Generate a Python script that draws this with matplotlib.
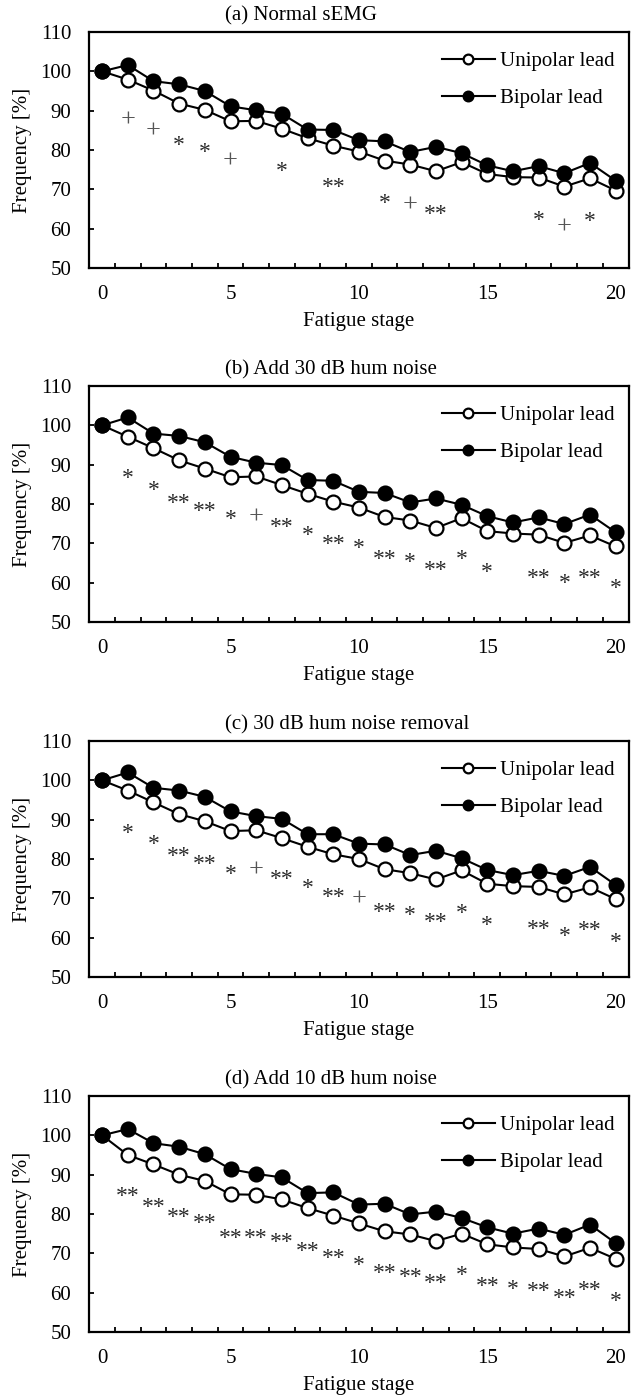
import numpy as np
import matplotlib
matplotlib.use("Agg")
import matplotlib.pyplot as plt
from matplotlib.ticker import MultipleLocator, FixedLocator

plt.rcParams['font.family'] = ['Liberation Serif', 'DejaVu Serif']

stages = list(range(21))

titles = ["(a) Normal sEMG", "(b) Add 30 dB hum noise",
          "(c) 30 dB hum noise removal", "(d) Add 10 dB hum noise"]

unipolar_a = [100, 97.9, 95.1, 91.8, 90.2, 87.3, 87.4, 85.4, 83.0, 81.1, 79.6,
              77.3, 76.3, 74.6, 76.9, 73.9, 73.1, 73.0, 70.7, 72.8, 69.7]
bipolar_a = [100, 101.6, 97.5, 96.7, 95.0, 91.1, 90.1, 89.2, 85.2, 85.1, 82.5,
             82.2, 79.5, 80.8, 79.2, 76.1, 74.6, 75.9, 74.1, 76.7, 72.2]

unipolar_b = [100, 97.1, 94.2, 91.1, 89.0, 86.8, 87.0, 84.8, 82.6, 80.6, 79.1,
              76.7, 75.8, 73.9, 76.4, 73.1, 72.5, 72.2, 70.1, 72.0, 69.2]
bipolar_b = [100, 102.0, 97.9, 97.3, 95.7, 92.0, 90.5, 89.9, 86.1, 85.9, 83.1,
             82.8, 80.4, 81.4, 79.8, 76.9, 75.3, 76.6, 74.9, 77.3, 72.8]

unipolar_c = [100, 97.4, 94.4, 91.4, 89.6, 87.1, 87.3, 85.3, 83.1, 81.2, 80.0,
              77.4, 76.4, 74.8, 77.1, 73.7, 73.1, 72.9, 71.0, 72.8, 69.8]
bipolar_c = [100, 102.0, 98.1, 97.4, 95.8, 92.1, 90.9, 90.2, 86.3, 86.3, 83.9,
             83.7, 81.0, 82.1, 80.2, 77.2, 75.9, 77.0, 75.7, 78.0, 73.4]

unipolar_d = [100, 95.0, 92.6, 90.0, 88.4, 85.0, 84.9, 83.7, 81.5, 79.6, 77.6,
              75.6, 74.8, 73.1, 75.0, 72.3, 71.5, 71.1, 69.2, 71.4, 68.6]
bipolar_d = [100, 101.6, 98.0, 97.1, 95.2, 91.4, 90.2, 89.3, 85.3, 85.5, 82.4,
             82.6, 79.9, 80.6, 79.0, 76.6, 75.0, 76.3, 74.7, 77.3, 72.6]

# significance marks: (stage, y position of symbol, text)
marks_a = [(1, 87.7, "+"), (2, 84.9, "+"), (3, 82.6, "*"), (4, 80.9, "*"),
           (5, 77.3, "+"), (7, 76.0, "*"), (9, 71.9, "**"), (11, 67.9, "*"),
           (12, 66.1, "+"), (13, 65.0, "**"), (17, 63.4, "*"), (18, 60.5, "+"),
           (19, 63.2, "*")]
marks_b = [(1, 87.8, "*"), (2, 84.8, "*"), (3, 81.6, "**"), (4, 79.6, "**"),
           (5, 77.5, "*"), (6, 76.7, "+"), (7, 75.4, "**"), (8, 73.3, "*"),
           (9, 71.2, "**"), (10, 70.0, "*"), (11, 67.2, "**"), (12, 66.6, "*"),
           (13, 64.4, "**"), (14, 67.2, "*"), (15, 63.9, "*"), (17, 62.6, "**"),
           (18, 61.1, "*"), (19, 62.6, "**"), (20, 59.9, "*")]
marks_c = [(1, 88.0, "*"), (2, 85.0, "*"), (3, 82.1, "**"), (4, 80.0, "**"),
           (5, 77.6, "*"), (6, 77.2, "+"), (7, 76.1, "**"), (8, 73.8, "*"),
           (9, 71.7, "**"), (10, 69.8, "+"), (11, 67.9, "**"), (12, 67.1, "*"),
           (13, 65.2, "**"), (14, 67.5, "*"), (15, 64.5, "*"), (17, 63.4, "**"),
           (18, 61.6, "*"), (19, 63.3, "**"), (20, 60.3, "*")]
marks_d = [(1, 85.8, "**"), (2, 83.1, "**"), (3, 80.5, "**"), (4, 79.0, "**"),
           (5, 75.3, "**"), (6, 75.3, "**"), (7, 74.2, "**"), (8, 71.9, "**"),
           (9, 70.2, "**"), (10, 68.3, "*"), (11, 66.2, "**"), (12, 65.4, "**"),
           (13, 63.7, "**"), (14, 65.8, "*"), (15, 62.9, "**"), (16, 62.2, "*"),
           (17, 61.6, "**"), (18, 59.9, "**"), (19, 62.0, "**"), (20, 59.2, "*")]

panels = [
    (titles[0], unipolar_a, bipolar_a, marks_a),
    (titles[1], unipolar_b, bipolar_b, marks_b),
    (titles[2], unipolar_c, bipolar_c, marks_c),
    (titles[3], unipolar_d, bipolar_d, marks_d),
]

W, H = 642, 1400
fig = plt.figure(figsize=(W / 100, H / 100), dpi=100)

ax_left, ax_right = 89.3, 628.5
ax_tops = [32, 386, 741, 1096]
ax_h = 236
fs = 15
# per-symbol font size and glyph centre height above baseline (fraction of em)
sym_fs = {"*": 17, "**": 17, "+": 19}
sym_center = {"*": 0.47, "**": 0.47, "+": 0.25}

for (title, uni, bi, marks), top in zip(panels, ax_tops):
    ax = fig.add_axes([ax_left / W, 1 - (top + ax_h) / H,
                       (ax_right - ax_left) / W, ax_h / H])

    ax.plot(stages, uni, '-o', color='black', lw=1.5, ms=10, mfc='white',
            mec='black', mew=1.6, label='Unipolar lead', zorder=3)
    ax.plot(stages, bi, '-o', color='black', lw=1.5, ms=10, mfc='black',
            mec='black', mew=1.6, label='Bipolar lead', zorder=4)

    for x, y, s in marks:
        ax.annotate(s, (x, y), xytext=(0, -sym_center[s] * sym_fs[s]),
                    textcoords='offset points', ha='center', va='baseline',
                    fontsize=sym_fs[s],
                    color='#555555' if s == "+" else '#2a2a2a')

    ax.set_xlim(-0.5, 20.5)
    ax.set_ylim(50, 110)
    ax.xaxis.set_major_locator(FixedLocator([0, 5, 10, 15, 20]))
    ax.xaxis.set_minor_locator(FixedLocator(np.arange(0.5, 20, 1)))
    ax.yaxis.set_major_locator(MultipleLocator(10))
    ax.tick_params(axis='x', which='major', length=0, pad=12, labelsize=fs)
    ax.tick_params(axis='x', which='minor', direction='in', length=3.8, width=1.3)
    ax.tick_params(axis='y', which='major', direction='in', length=3.8, width=1.3,
                   pad=13, labelsize=fs)
    for sp in ax.spines.values():
        sp.set_linewidth(1.6)

    ax.set_xlabel("Fatigue stage", fontsize=fs, labelpad=6)
    ax.set_ylabel("Frequency [%]", fontsize=fs, labelpad=5.5)

    ax.legend(loc='upper left', bbox_to_anchor=(0.654, 0.917), frameon=False,
              fontsize=fs, borderpad=0, borderaxespad=0, labelspacing=0.85,
              handlelength=2.55, handletextpad=0.25, markerscale=0.7)

    fig.text(225 / W, 1 - (top - 16) / H, title, fontsize=fs,
             ha='left', va='center')

fig.savefig("out.png", dpi=100)
